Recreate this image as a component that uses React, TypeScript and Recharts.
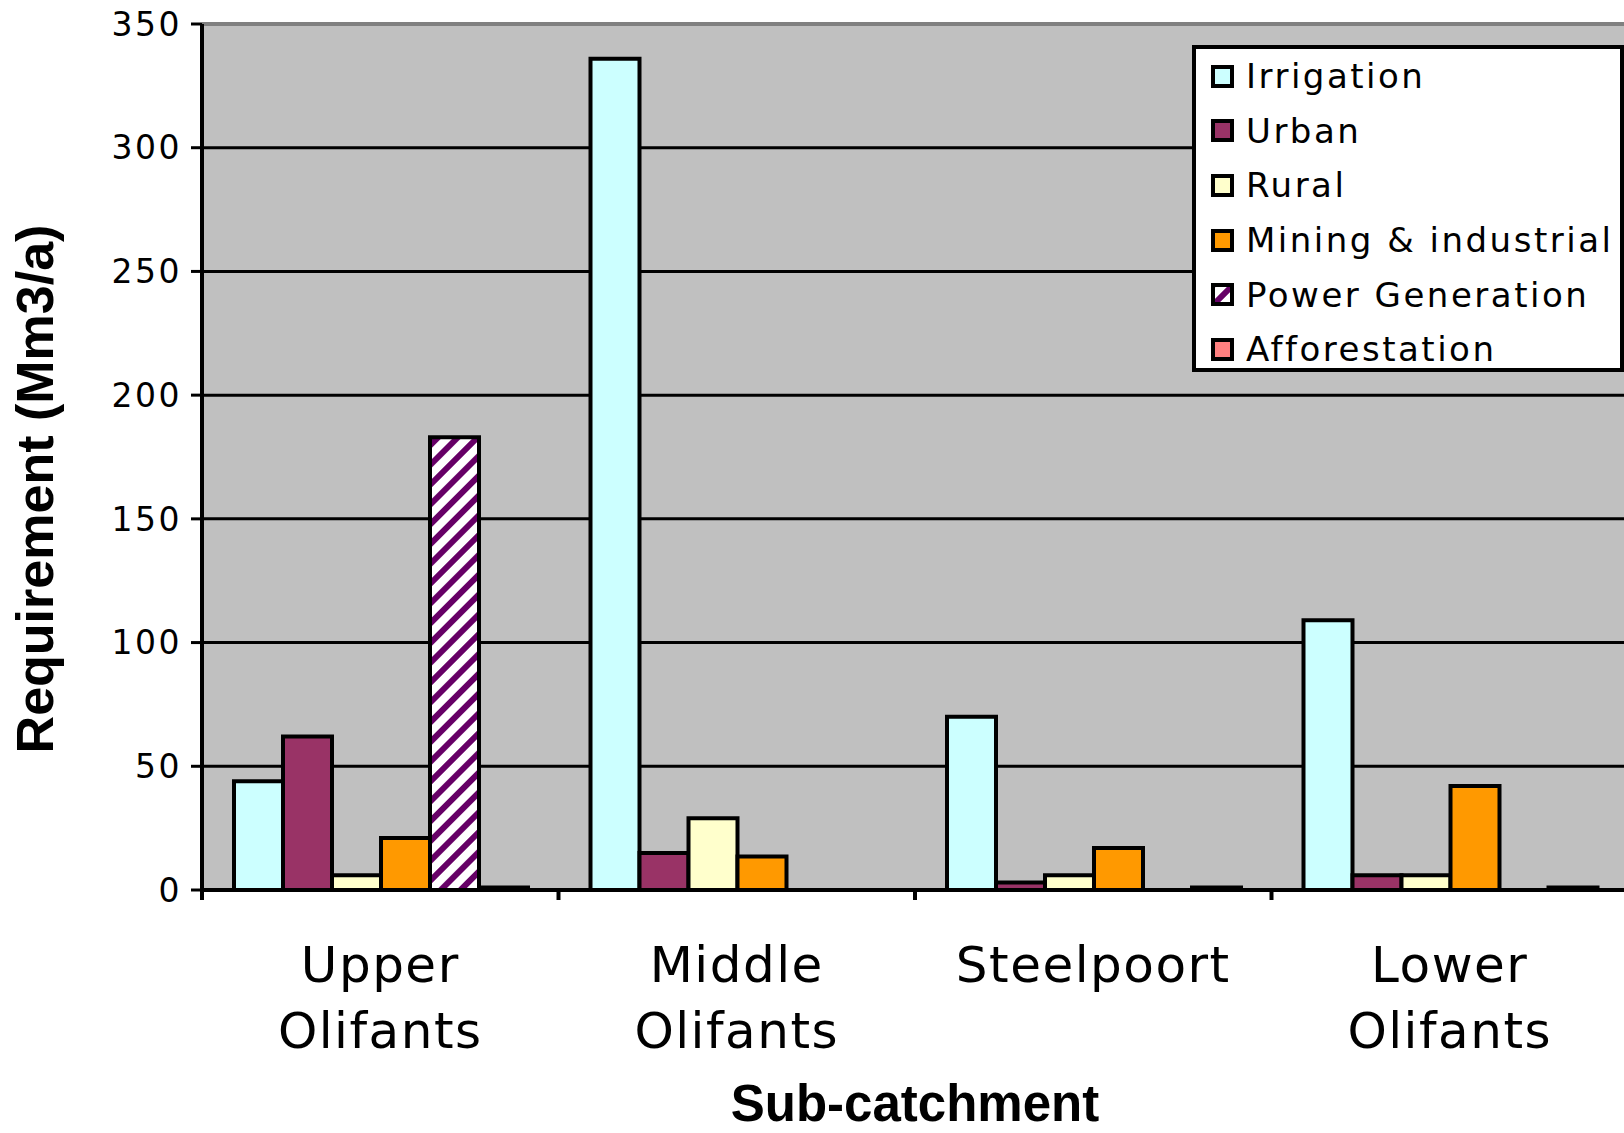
import { BarChart, Bar, XAxis, YAxis, CartesianGrid, Legend, Label, ReferenceLine } from 'recharts';

// Water requirement per sub-catchment, in million m3 per annum
const categories = ['Upper Olifants', 'Middle Olifants', 'Steelpoort', 'Lower Olifants'];
const irrigation = [44, 336, 70, 109];
const urban = [62, 15, 3, 6];
const rural = [6, 29, 6, 6];
const mining = [21, 13.5, 17, 42];
const power = [183, 0, 0, 0];
const afforestation = [1, 0, 1, 1];
const yTicks = [0, 50, 100, 150, 200, 250, 300, 350];

const SERIES = [
  { key: 'irrigation', name: 'Irrigation', fill: '#CCFFFF' },
  { key: 'urban', name: 'Urban', fill: '#993366' },
  { key: 'rural', name: 'Rural', fill: '#FFFFCC' },
  { key: 'mining', name: 'Mining & industrial', fill: '#FF9900' },
  { key: 'power', name: 'Power Generation', fill: 'url(#powerHatch)' },
  { key: 'afforestation', name: 'Afforestation', fill: '#FF8080' },
];

const data = categories.map((name, i) => ({
  name,
  irrigation: irrigation[i],
  urban: urban[i],
  rural: rural[i],
  mining: mining[i],
  power: power[i],
  afforestation: afforestation[i],
}));

const TICK_FONT = '"DejaVu Sans", Verdana, sans-serif';
const TITLE_FONT = '"Liberation Sans", Arial, sans-serif';

// category label centred in the band, tick mark on the band's left edge
function CategoryTick(props: any) {
  const { x, y, payload } = props;
  const half = payload.offset ?? 0;
  const lines = String(payload.value).split(' ');
  return (
    <g>
      <line x1={x - half} x2={x - half} y1={y} y2={y + 10} stroke="#000" strokeWidth={4} />
      <text
        textAnchor="middle"
        fill="#000"
        fontFamily={TICK_FONT}
        fontSize={50}
        letterSpacing={1.5}
      >
        {lines.map((line, i) => (
          <tspan key={i} x={x} y={y + 92 + i * 66}>
            {line}
          </tspan>
        ))}
      </text>
    </g>
  );
}

function YTitle(props: any) {
  const { viewBox } = props;
  const x = viewBox.x + 53;
  const y = viewBox.y + viewBox.height / 2 + 32;
  return (
    <text
      x={x}
      y={y}
      transform={`rotate(-90, ${x}, ${y})`}
      textAnchor="middle"
      fill="#000"
      fontFamily={TITLE_FONT}
      fontWeight="bold"
      fontSize={52}
    >
      Requirement (Mm3/a)
    </text>
  );
}

function LegendBox() {
  return (
    <div
      style={{
        width: 432,
        height: 327,
        boxSizing: 'border-box',
        border: '4px solid #000',
        background: '#fff',
        fontFamily: TICK_FONT,
        fontSize: 34,
        letterSpacing: 2.5,
        color: '#000',
      }}
    >
      {SERIES.map((s) => (
        <div key={s.key} style={{ display: 'flex', alignItems: 'center', height: 54.6, marginLeft: 15 }}>
          <svg width={23} height={23} style={{ display: 'block' }}>
            <rect x={2} y={2} width={19} height={19} fill={s.fill} stroke="#000" strokeWidth={4} />
          </svg>
          <span style={{ marginLeft: 12, lineHeight: 1, whiteSpace: 'nowrap' }}>{s.name}</span>
        </div>
      ))}
    </div>
  );
}

export default function App() {
  return (
    <div style={{ position: 'absolute', left: 0, top: 0, width: 1624, height: 1133, overflow: 'hidden', background: '#fff' }}>
      <BarChart
        width={1628}
        height={1133}
        data={data}
        margin={{ top: 24, right: 0, left: 0, bottom: 0 }}
        barCategoryGap={32}
        barGap={0}
      >
        <defs>
          <pattern id="powerHatch" patternUnits="userSpaceOnUse" width={14} height={14} patternTransform="rotate(45)">
            <rect x={0} y={0} width={14} height={14} fill="#fff" />
            <rect x={0} y={0} width={6} height={14} fill="#660066" />
          </pattern>
        </defs>
        <CartesianGrid vertical={false} horizontal stroke="#000" strokeWidth={3} fill="#C0C0C0" fillOpacity={1} />
        <XAxis
          dataKey="name"
          height={243}
          axisLine={{ stroke: '#000', strokeWidth: 4 }}
          tickLine={false}
          tickSize={0}
          tickMargin={0}
          tick={<CategoryTick />}
          interval={0}
        >
          <Label
            value="Sub-catchment"
            position="insideBottom"
            offset={12}
            fill="#000"
            fontFamily={TITLE_FONT}
            fontWeight="bold"
            fontSize={51}
          />
        </XAxis>
        <YAxis
          width={202}
          domain={[0, 350]}
          ticks={yTicks}
          interval={0}
          axisLine={{ stroke: '#000', strokeWidth: 4 }}
          tickLine={{ stroke: '#000', strokeWidth: 3 }}
          tickSize={11}
          tickMargin={9}
          tick={{ fill: '#000', fontFamily: TICK_FONT, fontSize: 33, letterSpacing: 2.5 }}
        >
          <Label content={<YTitle />} />
        </YAxis>
        <ReferenceLine y={350} stroke="#808080" strokeWidth={4} />
        {SERIES.map((s) => (
          <Bar
            key={s.key}
            dataKey={s.key}
            name={s.name}
            fill={s.fill}
            stroke="#000"
            strokeWidth={4}
            isAnimationActive={false}
          />
        ))}
        <Legend
          content={<LegendBox />}
          layout="vertical"
          align="center"
          verticalAlign="middle"
          wrapperStyle={{ left: 1192, top: 45, width: 432, height: 327 }}
        />
      </BarChart>
    </div>
  );
}
